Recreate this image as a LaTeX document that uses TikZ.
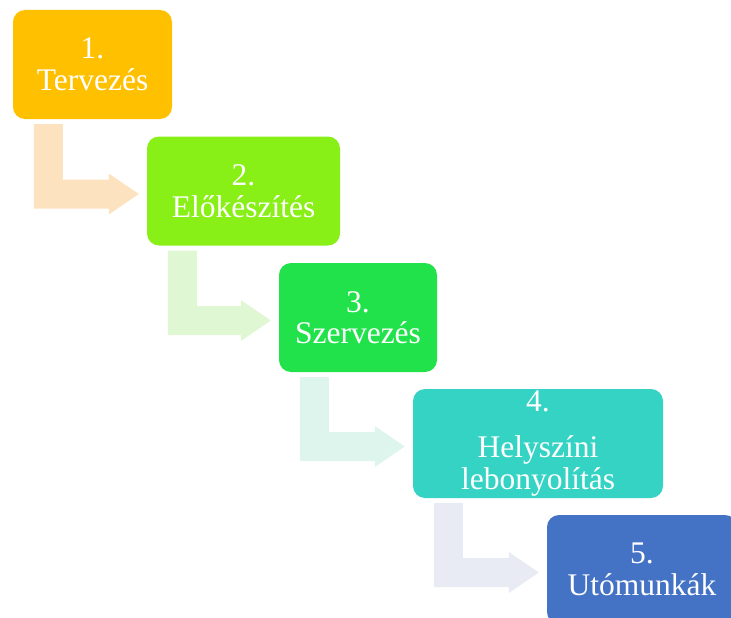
\documentclass[tikz,border=0pt]{standalone}
\usepackage{fontspec}
\setmainfont{Liberation Serif}
\usetikzlibrary{calc}

\definecolor{cOne}{HTML}{FFC000}
\definecolor{cTwo}{HTML}{88F016}
\definecolor{cThree}{HTML}{22E24C}
\definecolor{cFour}{HTML}{35D3C4}
\definecolor{cFive}{HTML}{4472C4}
\definecolor{aOne}{HTML}{FDE2C0}
\definecolor{aTwo}{HTML}{DFF8D3}
\definecolor{aThree}{HTML}{DDF5EC}
\definecolor{aFour}{HTML}{E8EAF4}

\tikzset{
  stagebox/.style={rectangle, rounded corners=12pt, draw=none, inner sep=0pt,
    minimum height=109pt, align=center, text=white,
    font=\fontsize{31.5}{31.5}\selectfont},
}

% bent arrow: down out of the bottom of #1, then right into the left side of #2
\newcommand{\bentarrow}[3]{%
  \fill[#3] let \p1=(#1.south west), \p2=(#2.west) in
    (\x1+21pt,\y1-5pt) -- (\x1+50pt,\y1-5pt) -- (\x1+50pt,\y2-3pt+14.5pt)
    -- (\x2-38pt,\y2-3pt+14.5pt) -- (\x2-38pt,\y2-3pt+20.5pt)
    -- (\x2-8pt,\y2-3pt) -- (\x2-38pt,\y2-3pt-20.5pt)
    -- (\x2-38pt,\y2-3pt-14.5pt) -- (\x1+21pt,\y2-3pt-14.5pt) -- cycle;}

\begin{document}
\begin{tikzpicture}[x=1pt,y=-1pt]
  \useasboundingbox (0,0) rectangle (731,618);
  \clip (0,0) rectangle (731,618);

  \node[stagebox, fill=cOne,   minimum width=159pt] (s1) at (92.5,64.5) {1.\\Tervezés};
  \node[stagebox, fill=cTwo,   minimum width=193pt] (s2) at (243.5,191) {2.\\Előkészítés};
  \node[stagebox, fill=cThree, minimum width=158pt] (s3) at (358,317.5) {3.\\Szervezés};
  \node[stagebox, fill=cFour,  minimum width=250pt] (s4) at (538,443.5) {4.\\[15pt]Helyszíni\\lebonyolítás};
  \node[stagebox, fill=cFive,  minimum width=190pt] (s5) at (642,569.5) {5.\\Utómunkák};

  \bentarrow{s1}{s2}{aOne}
  \bentarrow{s2}{s3}{aTwo}
  \bentarrow{s3}{s4}{aThree}
  \bentarrow{s4}{s5}{aFour}
\end{tikzpicture}
\end{document}
